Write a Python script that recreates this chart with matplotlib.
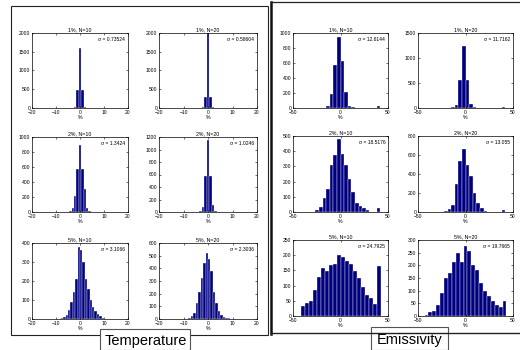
import matplotlib
matplotlib.use("Agg")
import matplotlib.pyplot as plt
from matplotlib.patches import Rectangle
from matplotlib.lines import Line2D

plt.rcParams['font.family'] = ['Liberation Sans', 'DejaVu Sans']

#------------------------------- temperature error histograms (%) -------------------------------#

t_1_10_x = [-4, -3, -2, -1, 0, 1, 2, 3, 4]
t_1_10_n = [5, 10, 20, 470, 1600, 480, 20, 8, 3]
t_1_20_x = [-4, -3, -2, -1, 0, 1, 2, 3]
t_1_20_n = [5, 10, 20, 300, 1990, 300, 15, 5]
t_2_10_x = [-5, -4, -3, -2, -1, 0, 1, 2, 3, 4, 5]
t_2_10_n = [3, 10, 50, 210, 570, 890, 570, 310, 50, 12, 4]
t_2_20_x = [-5, -4, -3, -2, -1, 0, 1, 2, 3, 4]
t_2_20_n = [3, 8, 20, 80, 570, 1150, 570, 110, 20, 5]
t_5_10_x = [-7.5, -6.5, -5.5, -4.5, -3.5, -2.5, -1.5, -0.5, 0.5, 1.5, 2.5, 3.5, 4.5, 5.5, 6.5, 7.5, 8.5, 9.5]
t_5_10_n = [3, 10, 20, 45, 90, 140, 210, 380, 365, 300, 210, 160, 100, 65, 40, 25, 15, 6]
t_5_20_x = [-7.5, -6.5, -5.5, -4.5, -3.5, -2.5, -1.5, -0.5, 0.5, 1.5, 2.5, 3.5, 4.5, 5.5, 6.5, 7.5, 8.5]
t_5_20_n = [8, 20, 50, 130, 210, 320, 440, 520, 470, 380, 210, 130, 60, 30, 15, 8, 4]

#------------------------------- emissivity error histograms (%) -------------------------------#

e_1_10_x = [-13.2, -9.4, -5.6, -1.8, 2.0, 5.8, 9.6, 13.4, 19.0, 40.0]
e_1_10_n = [25, 190, 570, 950, 620, 210, 25, 8, 5, 25]
e_1_20_x = [-13.2, -9.4, -5.6, -1.8, 2.0, 5.8, 9.6, 17.0, 28.0, 40.0]
e_1_20_n = [10, 60, 560, 1230, 560, 70, 10, 5, 5, 20]
e_2_10_x = [-24.6, -20.8, -17.0, -13.2, -9.4, -5.6, -1.8, 2.0, 5.8, 9.6, 13.4, 17.2, 21.0, 24.8, 28.6, 32.4, 40.0]
e_2_10_n = [10, 35, 90, 150, 310, 375, 480, 380, 310, 220, 130, 60, 40, 25, 10, 3, 25]
e_2_20_x = [-24.6, -20.8, -17.0, -13.2, -9.4, -5.6, -1.8, 2.0, 5.8, 9.6, 13.4, 17.2, 21.0, 24.8, 40.0]
e_2_20_n = [5, 10, 30, 70, 290, 540, 660, 500, 380, 200, 90, 40, 15, 5, 20]
e_5_10_x = [-39.9, -35.6, -31.4, -27.1, -22.9, -18.6, -14.4, -10.1, -5.9, -1.6,
            2.6, 6.9, 11.1, 15.4, 19.6, 23.9, 28.1, 32.4, 36.6, 40.9]
e_5_10_n = [33, 43, 49, 86, 127, 158, 149, 169, 171, 202, 194, 180, 171, 147, 124, 97, 69, 58, 41, 163]
e_5_20_x = [-41.0, -36.9, -32.8, -28.7, -24.6, -20.5, -16.4, -12.3, -8.2, -4.1, 0.0,
            4.1, 8.2, 12.3, 16.4, 20.5, 24.6, 28.7, 32.8, 36.9, 41.0]
e_5_20_n = [5, 15, 20, 45, 90, 150, 170, 215, 250, 215, 275, 255, 200, 180, 130, 100, 80, 60, 45, 35, 60]

titles = ["1%, N=10", "1%, N=20", "2%, N=10", "2%, N=20", "5%, N=10", "5%, N=20"]
t_sigma = ["0.73524", "0.58604", "1.3424", "1.0246", "3.1066", "2.3036"]
e_sigma = ["12.6144", "11.7162", "18.5176", "13.055", "24.7925", "19.7665"]

#------------------------------- layout helpers -------------------------------#

W, H = 520, 350
fig = plt.figure(figsize=(W / 100, H / 100), dpi=100)


def box(x0, y0, x1, y1):
    return [x0 / W, 1 - y1 / H, (x1 - x0) / W, (y1 - y0) / H]


def draw_hist(pos, xs, ns, width, xlim, xticks, ylim, yticks, title, sigma):
    ax = fig.add_axes(box(*pos))
    ax.bar(xs, ns, width=width, color='#00007f', edgecolor='white', linewidth=0.25)
    ax.set_xlim(xlim)
    ax.set_ylim(ylim)
    ax.set_xticks(xticks)
    ax.set_yticks(yticks)
    ax.tick_params(direction='in', length=1.5, width=0.4, labelsize=3.6, pad=1.2,
                   top=True, right=True)
    for s in ax.spines.values():
        s.set_linewidth(0.5)
    ax.set_title(title, fontsize=3.8, pad=1.5)
    ax.set_xlabel('%', fontsize=3.8, labelpad=0.5)
    ax.text(0.97, 0.95, '\u03c3 = ' + sigma, transform=ax.transAxes,
            ha='right', va='top', fontsize=3.6)
    return ax


# frame around the temperature panel and the emissivity panel
fig.add_artist(Rectangle((11 / W, 1 - 335 / H), 257 / W, 329 / H, transform=fig.transFigure,
                         fill=False, edgecolor='#222222', linewidth=0.8))
fig.add_artist(Line2D([271 / W, 271 / W], [1 - 2 / H, 1 - 334 / H], transform=fig.transFigure,
                      color='#111111', linewidth=1.8))
fig.add_artist(Line2D([271 / W, 1], [1 - 2 / H, 1 - 2 / H], transform=fig.transFigure,
                      color='#222222', linewidth=0.9))
fig.add_artist(Line2D([271 / W, 1], [1 - 333 / H, 1 - 333 / H], transform=fig.transFigure,
                      color='#222222', linewidth=1.0))

#------------------------------- temperature -------------------------------#

tx = [-20, -10, 0, 10, 20]
tcols = [(32, 128), (159, 257)]
trows = [(33, 108), (137, 212), (243, 319)]
t_data = [(t_1_10_x, t_1_10_n, (0, 2000), range(0, 2001, 500)),
          (t_1_20_x, t_1_20_n, (0, 2000), range(0, 2001, 500)),
          (t_2_10_x, t_2_10_n, (0, 1000), range(0, 1001, 200)),
          (t_2_20_x, t_2_20_n, (0, 1200), range(0, 1201, 200)),
          (t_5_10_x, t_5_10_n, (0, 400), range(0, 401, 100)),
          (t_5_20_x, t_5_20_n, (0, 600), range(0, 601, 100))]

for i, (xs, ns, yl, yt) in enumerate(t_data):
    c0, c1 = tcols[i % 2]
    r0, r1 = trows[i // 2]
    draw_hist((c0, r0, c1, r1), xs, ns, 1.0, (-20, 20), tx, yl, yt, titles[i], t_sigma[i])

#------------------------------- emissivity -------------------------------#

ex = [-50, 0, 50]
ecols = [(293, 388), (418, 513)]
erows = [(33, 108), (136, 212), (240, 316)]
e_data = [(e_1_10_x, e_1_10_n, 3.8, (0, 1000), range(0, 1001, 200)),
          (e_1_20_x, e_1_20_n, 3.8, (0, 1500), range(0, 1501, 500)),
          (e_2_10_x, e_2_10_n, 3.8, (0, 500), range(0, 501, 100)),
          (e_2_20_x, e_2_20_n, 3.8, (0, 800), range(0, 801, 200)),
          (e_5_10_x, e_5_10_n, 4.25, (0, 250), range(0, 251, 50)),
          (e_5_20_x, e_5_20_n, 4.1, (0, 300), range(0, 301, 50))]

for i, (xs, ns, w, yl, yt) in enumerate(e_data):
    c0, c1 = ecols[i % 2]
    r0, r1 = erows[i // 2]
    draw_hist((c0, r0, c1, r1), xs, ns, w, (-50, 50), ex, yl, yt, titles[i], e_sigma[i])

# caption boxes sitting on the bottom edge of each panel
fig.add_artist(Rectangle((100 / W, 0), 90 / W, 21 / H, transform=fig.transFigure,
                         facecolor='white', edgecolor='#555555', linewidth=0.8))
fig.text(146 / W, 1 - 341 / H, 'Temperature', ha='center', va='center', fontsize=10.5)
fig.add_artist(Rectangle((371 / W, 0), 77 / W, 23 / H, transform=fig.transFigure,
                         facecolor='white', edgecolor='#555555', linewidth=0.8))
fig.text(410 / W, 1 - 340 / H, 'Emissivity', ha='center', va='center', fontsize=10.5)

fig.savefig('out.png', dpi=100, facecolor='white')
